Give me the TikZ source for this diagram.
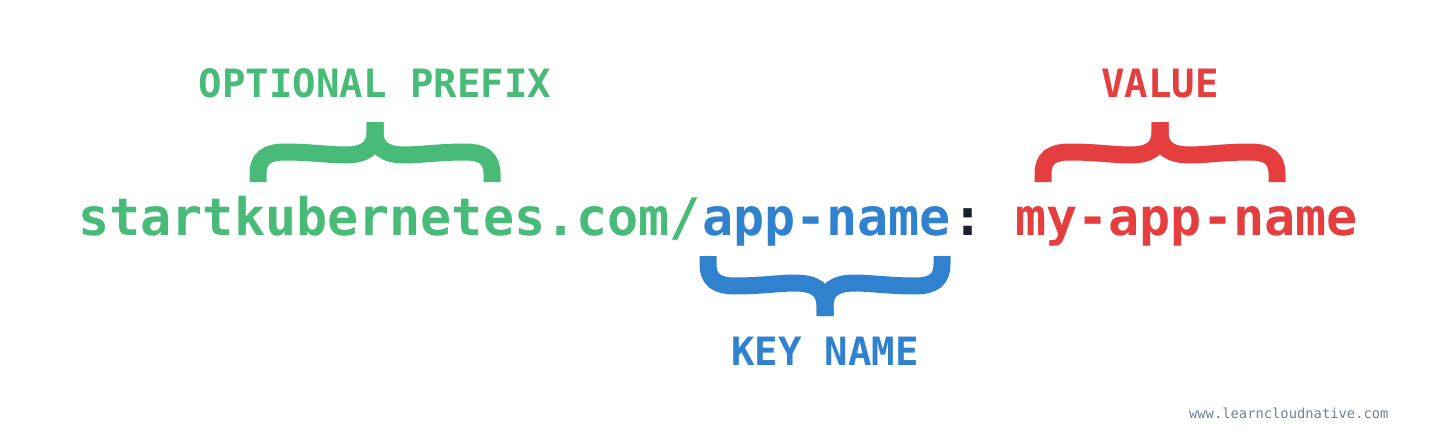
\documentclass[tikz,border=0pt]{standalone}
\usepackage{fontspec}
\setmonofont{DejaVu Sans Mono}
\usetikzlibrary{positioning}

\definecolor{prefixgreen}{HTML}{48BB78}
\definecolor{keyblue}{HTML}{3182CE}
\definecolor{valuered}{HTML}{E53E3E}
\definecolor{colonblack}{HTML}{1A202C}
\definecolor{sitegray}{HTML}{718096}

\tikzset{every picture/.style={line width=1pt}}
\tikzset{
  codetext/.style={inner sep=0pt, font=\ttfamily\bfseries\fontsize{51.7}{60}\selectfont},
  tagtext/.style={inner sep=0pt, anchor=base, font=\ttfamily\bfseries\fontsize{39}{45}\selectfont},
  % curly brace, tip at the origin, legs 60 away
  brace/.pic={
    \draw[line width=17pt] (-117,60) -- (-117,52) .. controls (-117,36) and (-108,30) .. (-90,30) .. controls (-65,30) and (-45,33) .. (-30,33) .. controls (-10,33) and (0,26) .. (0,10) -- (0,0);
    \draw[line width=17pt] (117,60) -- (117,52) .. controls (117,36) and (108,30) .. (90,30) .. controls (65,30) and (45,33) .. (30,33) .. controls (10,33) and (0,26) .. (0,10) -- (0,0);
  }
}

\begin{document}
\begin{tikzpicture}[x=1pt,y=1pt,yscale=-1,xscale=1]
\useasboundingbox (0,0) rectangle (1436,439);

% Text Node
\node[codetext, anchor=base west, text=prefixgreen] (prefix) at (78,235) {startkubernetes.com/};
% Text Node
\node[codetext, base right=0pt of prefix, text=keyblue] (key) {app-name};
% Text Node
\node[codetext, base right=0pt of key, text=colonblack] (sep) {:};
% Text Node
\node[codetext, base right=31.1pt of sep, text=valuered] (value) {my-app-name};

%Shape: Brace
\pic[prefixgreen, yscale=-1] at (375,122) {brace};
\pic[keyblue] at (825,316) {brace};
\pic[valuered, yscale=-1] at (1160,122) {brace};

% Text Node
\node[tagtext, text=prefixgreen] (prefixtag) at (375,97) {OPTIONAL PREFIX};
% Text Node
\node[tagtext, text=valuered] (valuetag) at (1160,97) {VALUE};
% Text Node
\node[tagtext, text=keyblue] (keytag) at (825,365) {KEY NAME};
% Text Node
\node[anchor=base east, inner sep=0pt, text=sitegray, font=\ttfamily\fontsize{13.8}{16}\selectfont] (site) at (1389,418) {www.learncloudnative.com};

\end{tikzpicture}
\end{document}
